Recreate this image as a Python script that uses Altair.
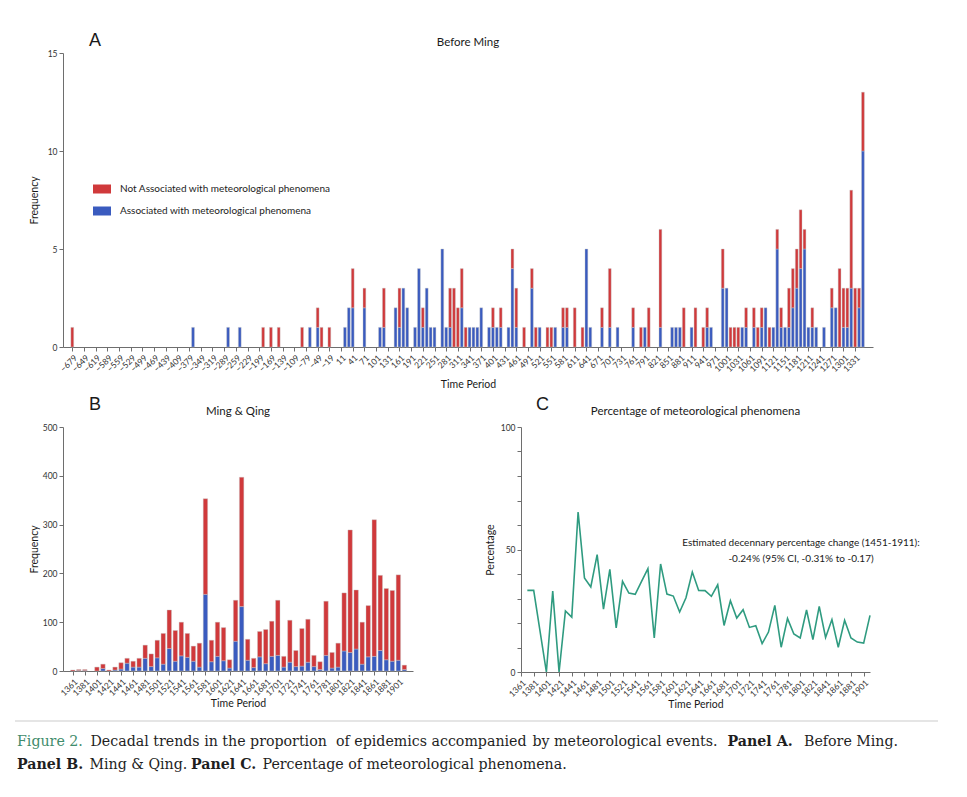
import altair as alt
import pandas as pd

NOT = "Not Associated with meteorological phenomena"
ASSOC = "Associated with meteorological phenomena"
RED = "#d0393b"
BLUE = "#3a5bbf"
GREEN = "#2f9b80"
FONT = "Lato"

# ---------------- Panel A: Before Ming ----------------
A_YEARS = [-679, -369, -279, -249, -189, -169, -149, -89, -69, -49, -39, -19,
           21, 31, 41, 71, 111, 121, 151, 161, 171, 181, 201, 211, 221, 231,
           241, 251, 271, 281, 291, 301, 311, 321, 331, 341, 351, 361, 371,
           391, 401, 411, 421, 441, 451, 461, 481, 501, 511, 521, 541, 551,
           561, 581, 591, 611, 631, 641, 651, 681, 701, 721, 761, 781, 791,
           801, 831, 861, 871, 881, 891, 911, 921, 941, 951, 961, 991, 1001,
           1011, 1021, 1031, 1041, 1051, 1071, 1081, 1091, 1101, 1111, 1121,
           1131, 1141, 1151, 1161, 1171, 1181, 1191, 1201, 1211, 1221, 1231,
           1251, 1271, 1281, 1291, 1301, 1311, 1321, 1331, 1341, 1351]
A_ASSOC = [0, 1, 1, 1, 0, 0, 0, 0, 1, 1, 0, 0,
           1, 2, 2, 2, 1, 1, 2, 1, 3, 2, 1, 4, 1, 3,
           1, 1, 5, 1, 1, 0, 0, 2, 0, 1, 1, 1, 2,
           1, 1, 1, 1, 1, 4, 1, 0, 3, 0, 1, 0, 0,
           1, 1, 1, 0, 0, 5, 1, 1, 1, 1, 1, 0, 1,
           0, 1, 1, 1, 1, 0, 1, 0, 0, 1, 1, 3, 3,
           0, 0, 0, 1, 1, 1, 0, 1, 2, 0, 1,
           5, 1, 1, 1, 2, 3, 4, 5, 1, 1, 1,
           1, 2, 2, 0, 1, 1, 3, 0, 2, 10]
A_NOT = [1, 0, 0, 0, 1, 1, 1, 1, 0, 1, 1, 1,
         0, 0, 2, 1, 0, 2, 0, 2, 0, 0, 0, 0, 1, 0,
         0, 0, 0, 0, 2, 3, 2, 2, 1, 0, 0, 0, 0,
         0, 1, 0, 1, 0, 1, 2, 1, 1, 1, 0, 1, 1,
         0, 1, 1, 2, 1, 0, 0, 1, 3, 0, 1, 1, 0,
         2, 5, 0, 0, 0, 2, 0, 2, 1, 1, 0, 2, 0,
         1, 1, 1, 0, 1, 1, 1, 1, 0, 1, 0,
         1, 1, 0, 2, 2, 2, 3, 1, 0, 1, 0,
         0, 1, 0, 4, 2, 2, 5, 3, 1, 3]
A_TICKS = list(range(-679, 1332, 30))
A_Y_TICKS = [0, 5, 10, 15]

# ---------------- Panel B: Ming & Qing ----------------
B_YEARS = [1361, 1371, 1381, 1391, 1401, 1411, 1421, 1431, 1441, 1451,
           1461, 1471, 1481, 1491, 1501, 1511, 1521, 1531, 1541, 1551,
           1561, 1571, 1581, 1591, 1601, 1611, 1621, 1631, 1641, 1651,
           1661, 1671, 1681, 1691, 1701, 1711, 1721, 1731, 1741, 1751,
           1761, 1771, 1781, 1791, 1801, 1811, 1821, 1831, 1841, 1851,
           1861, 1871, 1881, 1891, 1901, 1911]
B_ASSOC = [0, 1, 1, 0, 0, 5, 0, 2, 4, 16,
           8, 8, 26, 9, 27, 14, 46, 20, 31, 28,
           20, 8, 157, 19, 30, 21, 6, 61, 132, 22,
           7, 29, 15, 30, 32, 8, 18, 9, 10, 18,
           9, 3, 32, 6, 8, 41, 38, 45, 14, 29,
           30, 42, 23, 20, 22, 3]
B_NOT = [2, 2, 2, 0, 8, 9, 2, 6, 13, 10,
         12, 18, 27, 26, 36, 63, 79, 63, 69, 49,
         31, 49, 196, 44, 70, 68, 17, 84, 265, 43,
         19, 52, 70, 72, 113, 22, 86, 33, 77, 88,
         23, 16, 111, 32, 49, 119, 251, 121, 86, 105,
         280, 154, 146, 145, 175, 9]
B_TICKS = [1361, 1381, 1401, 1421, 1441, 1461, 1481, 1501, 1521, 1541,
           1561, 1581, 1601, 1621, 1641, 1661, 1681, 1701, 1721, 1741,
           1761, 1781, 1801, 1821, 1841, 1861, 1881, 1901]
B_Y_TICKS = [0, 100, 200, 300, 400, 500]

# ---------------- Panel C: Percentage ----------------
C_YEARS = [1371, 1381, 1401, 1411, 1421, 1431, 1441, 1451, 1461, 1471,
           1481, 1491, 1501, 1511, 1521, 1531, 1541, 1551, 1561, 1571,
           1581, 1591, 1601, 1611, 1621, 1631, 1641, 1651, 1661, 1671,
           1681, 1691, 1701, 1711, 1721, 1731, 1741, 1751, 1761, 1771,
           1781, 1791, 1801, 1811, 1821, 1831, 1841, 1851, 1861, 1871,
           1881, 1891, 1901, 1911]
C_PCT = [33.3, 33.3, 0.0, 33.0, 0.0, 24.9, 22.4, 65.3, 38.4, 34.7,
         47.9, 25.7, 41.9, 18.0, 37.0, 32.2, 31.7, 37.0, 42.2, 13.9,
         44.1, 31.8, 31.0, 24.5, 30.3, 40.8, 33.3, 33.2, 30.9, 35.6,
         19.0, 29.1, 22.0, 25.4, 18.2, 18.9, 11.6, 16.3, 27.2, 10.1,
         21.9, 15.5, 13.9, 25.3, 13.2, 26.8, 14.1, 21.4, 10.1, 21.1,
         13.9, 12.2, 11.8, 23.1]
C_Y_TICKS = [0, 10, 20, 30, 40, 50, 60, 70, 80, 90, 100]
C_NOTE = ["Estimated decennary percentage change (1451-1911):",
          "-0.24% (95% CI, -0.31% to -0.17)"]


def long_frame(years, assoc, notassoc):
    rows = []
    for y, a, n in zip(years, assoc, notassoc):
        if a > 0:
            rows.append({"year": y, "count": a, "category": ASSOC, "ord": 0})
        if n > 0:
            rows.append({"year": y, "count": n, "category": NOT, "ord": 1})
    return pd.DataFrame(rows)


df_a = long_frame(A_YEARS, A_ASSOC, A_NOT)
df_b = long_frame(B_YEARS, B_ASSOC, B_NOT)
df_c = pd.DataFrame({"year": C_YEARS, "pct": C_PCT})

one = alt.Data(values=[{"k": 0}])
color_scale = alt.Scale(domain=[NOT, ASSOC], range=[RED, BLUE])


def label(txt, x, y, size=11.5, align="center", font=FONT, weight="normal"):
    return alt.Chart(one).mark_text(
        text=txt, align=align, baseline="alphabetic", fontSize=size,
        font=font, fontWeight=weight, color="#1a1a1a"
    ).encode(x=alt.value(x), y=alt.value(y))


# ---- Panel A ----
A_W, A_H = 810, 294
bars_a = alt.Chart(df_a).mark_bar(size=2.8, stroke="#c4c4c4", strokeWidth=0.4).encode(
    x=alt.X("year:Q", scale=alt.Scale(domain=[-690, 1364], nice=False, zero=False),
            axis=alt.Axis(values=A_TICKS, format="d", labelAngle=-45, title="Time Period",
                          labelFontSize=8.5, titlePadding=7, labelOverlap=False)),
    y=alt.Y("count:Q", stack="zero", scale=alt.Scale(domain=[0, 15], nice=False),
            axis=alt.Axis(values=A_Y_TICKS, title="Frequency", titlePadding=8)),
    color=alt.Color("category:N", scale=color_scale,
                    legend=alt.Legend(title=None, orient="none", legendX=30, legendY=127,
                                      symbolType="M-1,-0.5H1V0.5H-1Z", symbolSize=324,
                                      symbolStrokeWidth=0, labelFontSize=10, labelFont=FONT,
                                      labelColor="#222", rowPadding=8, labelOffset=9,
                                      labelLimit=400, padding=0)),
    order=alt.Order("ord:Q"),
)
chart_a = alt.layer(
    bars_a,
    label("A", 26, -7, size=18, align="left", font="Liberation Sans"),
    label("Before Ming", A_W / 2, -7),
).properties(width=A_W, height=A_H)

# ---- Panel B ----
B_W, B_H = 350, 244
bars_b = alt.Chart(df_b).mark_bar(size=4.4, stroke="#c4c4c4", strokeWidth=0.4).encode(
    x=alt.X("year:Q", scale=alt.Scale(domain=[1353, 1917], nice=False, zero=False),
            axis=alt.Axis(values=B_TICKS, format="d", labelAngle=-45, title="Time Period",
                          titlePadding=2, labelOverlap=False)),
    y=alt.Y("count:Q", stack="zero", scale=alt.Scale(domain=[0, 500], nice=False),
            axis=alt.Axis(values=B_Y_TICKS, title="Frequency", titlePadding=3)),
    color=alt.Color("category:N", scale=color_scale, legend=None),
    order=alt.Order("ord:Q"),
)
chart_b = alt.layer(
    bars_b,
    label("B", 26, -17, size=18, align="left", font="Liberation Sans"),
    label("Ming & Qing", B_W / 2, -12),
).properties(width=B_W, height=B_H)

# ---- Panel C ----
C_W, C_H = 349, 245
line_c = alt.Chart(df_c).mark_line(color=GREEN, strokeWidth=1.6).encode(
    x=alt.X("year:Q", scale=alt.Scale(domain=[1361, 1911], nice=False, zero=False),
            axis=alt.Axis(values=B_TICKS, format="d", labelAngle=-45, title="Time Period",
                          titlePadding=2, labelOverlap=False)),
    y=alt.Y("pct:Q", scale=alt.Scale(domain=[0, 100], nice=False),
            axis=alt.Axis(values=C_Y_TICKS, title="Percentage", titlePadding=5,
                          labelExpr="datum.value % 50 == 0 ? datum.label : ''")),
)
chart_c = alt.layer(
    line_c,
    label("C", 15, -17, size=18, align="left", font="Liberation Sans"),
    label("Percentage of meteorological phenomena", C_W / 2, -12),
    label(C_NOTE[0], 280, 119, size=10),
    label(C_NOTE[1], 280, 135, size=10),
).properties(width=C_W, height=C_H)

# ---- Caption ----
CAP_FONT = "DejaVu Serif"
CAP_SIZE = 14.2


def cap(txt, x, y, bold=False, color="#1f1f1f"):
    return alt.Chart(one).mark_text(
        text=txt, align="left", baseline="alphabetic", fontSize=CAP_SIZE,
        font=CAP_FONT, fontWeight="bold" if bold else "normal", color=color
    ).encode(x=alt.value(x), y=alt.value(y))


L1, L2 = 30, 53
caption = alt.layer(
    alt.Chart(one).mark_rule(color="#dcdcdc", strokeWidth=1.5).encode(
        x=alt.value(-48), x2=alt.value(875), y=alt.value(5)),
    cap("Figure 2.", -46, L1, color="#3f8c6c"),
    cap("Decadal trends in the proportion", 27.5, L1),
    cap("of epidemics accompanied", 273, L1),
    cap("by meteorological events.", 469.5, L1),
    cap("Panel A.", 664.5, L1, bold=True),
    cap("Before Ming.", 741, L1),
    cap("Panel B.", -46, L2, bold=True),
    cap("Ming & Qing.", 26.5, L2),
    cap("Panel C.", 128, L2, bold=True),
    cap("Percentage of meteorological phenomena.", 199.5, L2),
).properties(width=870, height=57)

chart = alt.vconcat(
    chart_a,
    alt.hconcat(chart_b, chart_c, spacing=72),
    caption,
    spacing=5,
).resolve_scale(color="independent").properties(
    padding={"left": 6, "top": 24, "right": 5, "bottom": 5}
).configure_view(stroke=None).configure_axis(
    labelFont=FONT, titleFont=FONT, labelFontSize=8.5, titleFontSize=10.5,
    titleFontWeight="normal", labelColor="#333", titleColor="#1a1a1a",
    domainColor="#6e6e6e", tickColor="#6e6e6e", tickSize=4, labelPadding=2,
    grid=False,
)

chart.save("out.html", embed_options={"renderer": "svg", "actions": False})
